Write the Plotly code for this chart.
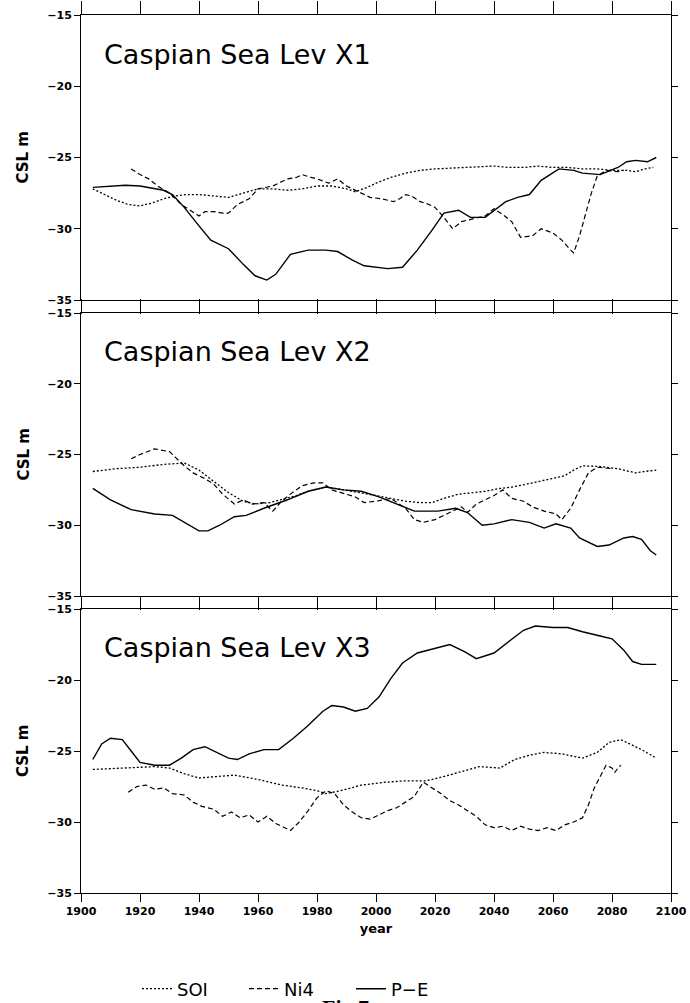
import plotly.graph_objects as go
from plotly.subplots import make_subplots

# ---------------- data ----------------
panel_titles = ["Caspian Sea Lev X1", "Caspian Sea Lev X2", "Caspian Sea Lev X3"]
series_names = ["SOI", "Ni4", "P\u2212E"]
x_ticks = [1900, 1920, 1940, 1960, 1980, 2000, 2020, 2040, 2060, 2080, 2100]
y_ticks = [-35, -30, -25, -20, -15]

# Panel 1
soi1_years = [1904, 1908, 1912, 1916, 1920, 1924, 1928, 1932, 1936, 1940, 1945, 1950, 1955, 1960, 1965,
              1970, 1975, 1980, 1985, 1990, 1993, 1997, 2000, 2005, 2010, 2015, 2020, 2025, 2030, 2035,
              2040, 2045, 2050, 2055, 2060, 2065, 2070, 2075, 2080, 2085, 2088, 2091, 2094]
soi1 = [-27.2, -27.6, -28.0, -28.3, -28.4, -28.2, -27.9, -27.7, -27.6, -27.6, -27.7, -27.8, -27.5, -27.2, -27.2,
        -27.3, -27.2, -27.0, -27.0, -27.2, -27.4, -27.1, -26.8, -26.4, -26.1, -25.9, -25.8, -25.75, -25.7, -25.65,
        -25.6, -25.7, -25.7, -25.6, -25.7, -25.7, -25.8, -25.8, -25.9, -25.9, -26.0, -25.8, -25.7]

ni4_1_years = [1917, 1920, 1923, 1926, 1930, 1934, 1937, 1940, 1942, 1945, 1948, 1950, 1953, 1957, 1960,
               1965, 1968, 1970, 1973, 1975, 1978, 1980, 1984, 1987, 1990, 1994, 1998, 2002, 2006, 2008,
               2010, 2012, 2015, 2018, 2020, 2023, 2026, 2029, 2033, 2037, 2040, 2043, 2046, 2049, 2053,
               2056, 2060, 2063, 2066, 2067, 2069, 2071, 2073, 2075, 2078, 2082, 2084]
ni4_1 = [-25.8, -26.2, -26.5, -27.0, -27.5, -28.3, -28.7, -29.1, -28.8, -28.8, -28.9, -28.9, -28.3, -27.9, -27.2,
         -27.0, -26.7, -26.5, -26.4, -26.2, -26.4, -26.5, -26.8, -26.5, -27.0, -27.4, -27.8, -27.9, -28.1, -27.9,
         -27.6, -27.7, -28.1, -28.3, -28.5, -29.2, -30.0, -29.5, -29.3, -29.1, -28.6, -29.0, -29.5, -30.6, -30.5,
         -30.0, -30.3, -30.8, -31.5, -31.7, -30.5, -29.0, -27.5, -26.3, -25.9, -26.0, -25.9]

pe1_years = [1904, 1910, 1915, 1920, 1925, 1928, 1931, 1935, 1940, 1944, 1950, 1955, 1959, 1963, 1966,
             1971, 1977, 1983, 1987, 1992, 1996, 2000, 2004, 2009, 2014, 2019, 2023, 2028, 2032, 2037,
             2041, 2044, 2048, 2052, 2056, 2062, 2067, 2070, 2076, 2082, 2085, 2088, 2092, 2095]
pe1 = [-27.1, -27.0, -26.95, -27.0, -27.2, -27.3, -27.6, -28.5, -29.8, -30.8, -31.4, -32.5, -33.3, -33.6, -33.2,
       -31.8, -31.5, -31.5, -31.6, -32.2, -32.6, -32.7, -32.8, -32.7, -31.5, -30.1, -28.9, -28.7, -29.2, -29.2,
       -28.6, -28.1, -27.8, -27.6, -26.6, -25.8, -25.9, -26.1, -26.2, -25.7, -25.3, -25.2, -25.3, -25.0]

# Panel 2
soi2_years = [1904, 1912, 1920, 1928, 1935, 1940, 1945, 1950, 1955, 1959, 1964, 1968, 1973, 1977, 1983,
              1989, 1995, 2000, 2005, 2010, 2015, 2019, 2023, 2028, 2033, 2037, 2042, 2046, 2051, 2055,
              2060, 2064, 2067, 2070, 2076, 2082, 2086, 2088, 2091, 2095]
soi2 = [-26.2, -26.0, -25.9, -25.7, -25.6, -26.1, -26.9, -27.7, -28.3, -28.5, -28.4, -28.2, -27.9, -27.6, -27.3,
        -27.5, -27.7, -27.9, -28.1, -28.3, -28.4, -28.4, -28.1, -27.8, -27.7, -27.6, -27.4, -27.3, -27.1, -26.9,
        -26.7, -26.5, -26.1, -25.8, -25.85, -26.0, -26.2, -26.3, -26.2, -26.1]

ni4_2_years = [1917, 1920, 1925, 1930, 1932, 1935, 1938, 1942, 1945, 1948, 1952, 1955, 1958, 1962, 1965,
               1968, 1971, 1975, 1979, 1982, 1985, 1990, 1993, 1996, 2000, 2005, 2010, 2013, 2016, 2020,
               2023, 2026, 2029, 2031, 2034, 2037, 2040, 2043, 2046, 2050, 2053, 2057, 2061, 2063, 2066,
               2069, 2072, 2075, 2080]
ni4_2 = [-25.3, -25.0, -24.6, -24.8, -25.2, -25.8, -26.3, -26.7, -27.1, -27.8, -28.5, -28.2, -28.5, -28.4, -29.0,
         -28.3, -27.8, -27.2, -27.0, -27.0, -27.5, -27.8, -28.0, -28.4, -28.3, -28.1, -28.8, -29.6, -29.8, -29.6,
         -29.3, -29.0, -28.7, -29.1, -28.5, -28.2, -27.9, -27.5, -28.1, -28.3, -28.7, -29.0, -29.2, -29.6, -28.8,
         -27.5, -26.3, -25.9, -26.0]

pe2_years = [1904, 1910, 1917, 1925, 1931, 1935, 1940, 1943, 1947, 1952, 1956, 1962, 1970, 1977, 1983,
             1989, 1995, 2001, 2007, 2013, 2021, 2027, 2031, 2036, 2040, 2046, 2052, 2057, 2061, 2066,
             2069, 2075, 2079, 2084, 2087, 2090, 2093, 2095]
pe2 = [-27.4, -28.2, -28.9, -29.2, -29.3, -29.8, -30.4, -30.4, -30.0, -29.4, -29.3, -28.8, -28.2, -27.6, -27.3,
       -27.5, -27.6, -28.0, -28.5, -29.0, -29.0, -28.8, -29.1, -30.0, -29.9, -29.6, -29.8, -30.2, -29.9, -30.2,
       -30.9, -31.5, -31.4, -30.9, -30.8, -31.0, -31.8, -32.1]

# Panel 3
soi3_years = [1904, 1915, 1925, 1930, 1935, 1940, 1945, 1952, 1960, 1968, 1975, 1980, 1983, 1988, 1995,
              2003, 2010, 2017, 2023, 2030, 2035, 2042, 2047, 2052, 2057, 2063, 2070, 2075, 2079, 2083,
              2086, 2090, 2095]
soi3 = [-26.3, -26.2, -26.1, -26.2, -26.6, -26.9, -26.8, -26.7, -27.0, -27.4, -27.6, -27.8, -28.0, -27.8, -27.4,
        -27.2, -27.1, -27.1, -26.8, -26.4, -26.1, -26.2, -25.6, -25.3, -25.1, -25.2, -25.5, -25.1, -24.4, -24.2,
        -24.5, -24.9, -25.5]

ni4_3_years = [1916, 1919, 1922, 1925, 1928, 1931, 1935, 1938, 1941, 1945, 1948, 1951, 1954, 1957, 1960,
               1963, 1966, 1969, 1971, 1974, 1977, 1980, 1983, 1986, 1989, 1992, 1995, 1998, 2001, 2004,
               2007, 2010, 2013, 2016, 2019, 2022, 2025, 2028, 2031, 2034, 2037, 2040, 2043, 2046, 2049,
               2052, 2055, 2058, 2061, 2064, 2067, 2070, 2072, 2074, 2076, 2078, 2080, 2081, 2082, 2083]
ni4_3 = [-27.9, -27.5, -27.4, -27.7, -27.6, -28.0, -28.1, -28.6, -28.9, -29.1, -29.6, -29.3, -29.7, -29.5, -30.0,
         -29.6, -30.1, -30.4, -30.6, -30.0, -29.2, -28.3, -27.8, -28.0, -28.8, -29.3, -29.7, -29.8, -29.5, -29.2,
         -29.0, -28.6, -28.2, -27.2, -27.6, -28.0, -28.5, -28.8, -29.2, -29.6, -30.2, -30.4, -30.3, -30.6, -30.3,
         -30.5, -30.6, -30.4, -30.6, -30.2, -30.0, -29.7, -28.8, -27.6, -26.8, -26.0, -26.2, -26.5, -26.2, -26.0]

pe3_years = [1904, 1907, 1910, 1914, 1917, 1920, 1925, 1930, 1934, 1938, 1942, 1946, 1950, 1953, 1957,
             1962, 1967, 1972, 1977, 1982, 1985, 1989, 1993, 1997, 2001, 2005, 2009, 2014, 2020, 2025,
             2030, 2034, 2040, 2045, 2050, 2054, 2060, 2065, 2070, 2076, 2080, 2084, 2087, 2090, 2095]
pe3 = [-25.6, -24.5, -24.1, -24.2, -25.0, -25.8, -26.0, -26.0, -25.5, -24.9, -24.7, -25.1, -25.5, -25.6, -25.2,
       -24.9, -24.9, -24.1, -23.2, -22.2, -21.8, -21.9, -22.2, -22.0, -21.2, -19.9, -18.8, -18.1, -17.8, -17.5,
       -18.0, -18.5, -18.1, -17.3, -16.5, -16.2, -16.3, -16.3, -16.6, -16.9, -17.1, -17.9, -18.7, -18.9, -18.9]

panels = [
    [(soi1_years, soi1), (ni4_1_years, ni4_1), (pe1_years, pe1)],
    [(soi2_years, soi2), (ni4_2_years, ni4_2), (pe2_years, pe2)],
    [(soi3_years, soi3), (ni4_3_years, ni4_3), (pe3_years, pe3)],
]

# ---------------- figure ----------------
W, H = 690, 1003
ML, MR, MT, MB = 81, 19, 15, 110
ph = H - MT - MB  # 878

def frac(py):
    return (H - MB - py) / ph

domains = [(frac(300), frac(15)), (frac(596), frac(313)), (frac(893), frac(609))]

fig = make_subplots(rows=3, cols=1, shared_xaxes=False, vertical_spacing=0.01)

dashes = ["2px,2px", "5px,3px", "solid"]
widths = [1.3, 1.2, 1.4]
for r, series in enumerate(panels, start=1):
    for k, (xs, ys) in enumerate(series):
        fig.add_trace(go.Scatter(
            x=xs, y=ys, mode="lines", name=series_names[k],
            line=dict(color="black", width=widths[k], dash=dashes[k]),
            showlegend=(r == 1), legendgroup=series_names[k]),
            row=r, col=1)

tickfont = dict(family="DejaVu Sans", size=11, color="black", weight="bold")
for i in range(3):
    xa = "xaxis" if i == 0 else f"xaxis{i+1}"
    ya = "yaxis" if i == 0 else f"yaxis{i+1}"
    fig.layout[xa].update(
        range=[1900, 2100], tickmode="array", tickvals=x_ticks, ticks="outside",
        ticklen=13 if i < 2 else 8, tickwidth=1, tickcolor="black",
        showline=True, linecolor="black", linewidth=1, mirror="allticks",
        showgrid=False, zeroline=False, showticklabels=(i == 2),
        tickfont=tickfont, automargin=False)
    fig.layout[ya].update(
        domain=list(domains[i]),
        range=[-35, -15], tickmode="array", tickvals=y_ticks, ticks="outside", ticklen=6,
        tickwidth=1, tickcolor="black",
        showline=True, linecolor="black", linewidth=1, mirror="allticks",
        showgrid=False, zeroline=False, tickfont=tickfont, automargin=False)
    fig.add_annotation(
        text=panel_titles[i], xref="x domain" if i == 0 else f"x{i+1} domain",
        yref="y domain" if i == 0 else f"y{i+1} domain",
        x=0.036, y=0.863, xanchor="left", yanchor="middle", showarrow=False,
        font=dict(family="DejaVu Sans", size=27, color="black"))
    fig.add_annotation(
        text="<b>CSL m</b>", xref="paper",
        yref="y domain" if i == 0 else f"y{i+1} domain",
        x=(23 - ML) / (W - ML - MR), y=0.5, textangle=-90, showarrow=False,
        xanchor="center", yanchor="middle",
        font=dict(family="DejaVu Sans", size=15, color="black"))

fig.layout.xaxis3.title = dict(text="<b>year</b>", standoff=6,
                               font=dict(family="DejaVu Sans", size=13, color="black"))

fig.add_annotation(text="<b>Fig.7</b>", xref="paper", yref="paper",
                   x=(345 - ML) / (W - ML - MR), y=frac(993), xanchor="center", yanchor="top",
                   showarrow=False, font=dict(family="Liberation Serif", size=22, color="black"))

fig.update_layout(
    width=W, height=H, margin=dict(l=ML, r=MR, t=MT, b=MB, autoexpand=False),
    paper_bgcolor="white", plot_bgcolor="white",
    showlegend=True,
    legend=dict(orientation="h", xref="container", yref="container",
                x=(137) / W, xanchor="left",
                y=1 - 989 / H, yanchor="middle", bgcolor="rgba(0,0,0,0)",
                font=dict(family="DejaVu Sans", size=18, color="black"),
                entrywidth=62, entrywidthmode="pixels", itemwidth=30, traceorder="normal"),
)

fig.write_html("out.html")
